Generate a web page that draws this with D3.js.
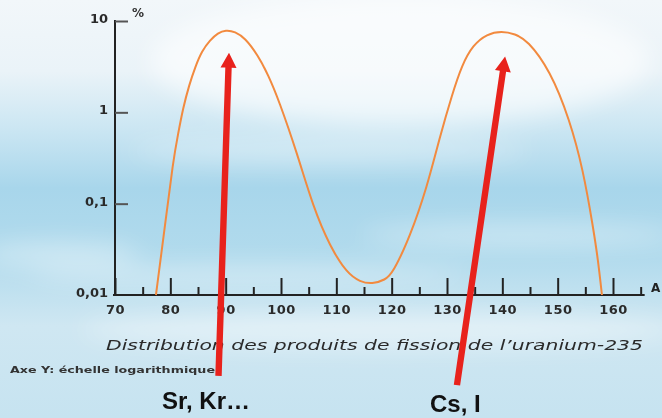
<!DOCTYPE html>
<html>
<head>
<meta charset="utf-8">
<script src="https://cdn.jsdelivr.net/npm/d3@7"></script>
<style>
  body { margin: 0; overflow: hidden; }
  svg { display: block; }
</style>
</head>
<body>
<svg id="chart"></svg>
<script>
// mass number A and fission yield (%)
var massNumbers = [77.4, 79.0, 80.5, 81.4, 82.3, 83.4, 84.5, 85.7, 87.2, 88.6, 90.0, 91.7, 93.5,
  95.8, 97.7, 99.6, 102.9, 105.8, 108.9, 111.9, 114.3, 116.5, 118.8, 120.2, 123.3, 126.4, 128.7,
  130.9, 132.7, 134.7, 137.2, 139.9, 142.3, 144.5, 148.6, 152.2, 154.6, 156.4, 157.3, 158.0]
var yields = [0.01, 0.0555, 0.293, 0.579, 1.115, 1.99, 3.14, 4.69, 6.19, 7.39, 7.97, 7.67, 6.51,
  4.24, 2.56, 1.36, 0.359, 0.0919, 0.0335, 0.0174, 0.0139, 0.0132, 0.0146, 0.0174, 0.0432, 0.152, 0.537,
  1.55, 3.30, 5.46, 7.21, 7.77, 7.21, 6.19, 2.91, 0.824, 0.234, 0.0555, 0.0242, 0.01]

var xTicks = [70, 80, 90, 100, 110, 120, 130, 140, 150, 160]
var xMinorTicks = [75, 85, 95, 105, 115, 125, 135, 145, 155, 165]
var yTicks = [10, 1, 0.1, 0.01]
var yTickLabels = ["10", "1", "0,1", "0,01"]

// arrows pointing at the two peaks: [A, yield]
var arrowLabels = ["Sr, Kr…", "Cs, I"]
var arrowTips = [[90.6, 4.5], [140.5, 4.1]]
var arrowTails = [[88.7, 0.0013], [131.8, 0.00103]]

var title = "Distribution des produits de fission de l\u2019uranium-235"
var note = "Axe Y: échelle logarithmique"

var width = 662, height = 418

var svg = d3.select("#chart").attr("width", width).attr("height", height)

// background sky
var defs = svg.append("defs")
var grad = defs.append("linearGradient").attr("id", "sky")
  .attr("x1", 0).attr("y1", 0).attr("x2", 0).attr("y2", 1)
var stops = [[0, "#f2f7fa"], [0.17, "#eaf3f8"], [0.3, "#cde7f3"], [0.45, "#a8d6eb"],
  [0.62, "#b2dbed"], [0.78, "#cfe7f2"], [1, "#c6e3f0"]]
stops.forEach(function(s) {
  grad.append("stop").attr("offset", s[0]).attr("stop-color", s[1])
})
defs.append("filter").attr("id", "blur").attr("x", "-50%").attr("y", "-50%")
  .attr("width", "200%").attr("height", "200%")
  .append("feGaussianBlur").attr("stdDeviation", 12)

svg.append("rect").attr("width", width).attr("height", height).attr("fill", "url(#sky)")

var clouds = svg.append("g").attr("filter", "url(#blur)").attr("fill", "#ffffff")
clouds.append("ellipse").attr("cx", 400).attr("cy", 60).attr("rx", 250).attr("ry", 65).attr("opacity", 0.6)
clouds.append("ellipse").attr("cx", 330).attr("cy", 150).attr("rx", 200).attr("ry", 12).attr("opacity", 0.35)
clouds.append("ellipse").attr("cx", 520).attr("cy", 235).attr("rx", 160).attr("ry", 10).attr("opacity", 0.4)
clouds.append("ellipse").attr("cx", 250).attr("cy", 275).attr("rx", 220).attr("ry", 10).attr("opacity", 0.35)
clouds.append("ellipse").attr("cx", 380).attr("cy", 330).attr("rx", 300).attr("ry", 18).attr("opacity", 0.4)
clouds.append("ellipse").attr("cx", 60).attr("cy", 255).attr("rx", 80).attr("ry", 12).attr("opacity", 0.4)

// scales
var xScale = d3.scaleLinear().domain([70, 160]).range([115, 613])
var yScale = d3.scaleLog().domain([0.01, 10]).range([295, 21])

var axisY0 = yScale(0.01)
var labelFont = "'DejaVu Sans', sans-serif"

// x axis line
svg.append("line")
  .attr("x1", xScale(70) - 2).attr("x2", xScale(165) + 4)
  .attr("y1", axisY0).attr("y2", axisY0)
  .attr("stroke", "#222").attr("stroke-width", 2)

var xAxis = svg.append("g")
  .attr("transform", "translate(0," + axisY0 + ")")
  .call(d3.axisBottom(xScale).tickValues(xTicks).tickSize(-17).tickPadding(10))
xAxis.select(".domain").remove()
xAxis.selectAll("line").attr("stroke", "#222").attr("stroke-width", 2)
xAxis.selectAll("text").attr("fill", "#2a2a2a").style("font-family", labelFont)
  .style("font-size", "13px").style("font-weight", "bold").style("letter-spacing", "0.5px")

var xMinor = svg.append("g")
  .attr("transform", "translate(0," + axisY0 + ")")
  .call(d3.axisBottom(xScale).tickValues(xMinorTicks).tickSize(-8).tickFormat(""))
xMinor.select(".domain").remove()
xMinor.selectAll("line").attr("stroke", "#222").attr("stroke-width", 2)

// y axis
svg.append("line")
  .attr("x1", xScale(70)).attr("x2", xScale(70))
  .attr("y1", yScale(10) - 1).attr("y2", axisY0 + 1)
  .attr("stroke", "#222").attr("stroke-width", 2)

var yAxis = svg.append("g")
  .attr("transform", "translate(" + xScale(70) + ",0)")
  .call(d3.axisLeft(yScale).tickValues(yTicks).tickSize(-13).tickPadding(7)
    .tickFormat(function(d, i) { return yTickLabels[i] }))
yAxis.select(".domain").remove()
yAxis.selectAll("line").attr("stroke", "#555").attr("stroke-width", 2)
yAxis.selectAll(".tick").filter(function(d) { return d == 0.01 }).select("line").remove()
yAxis.selectAll("text").attr("fill", "#2a2a2a").attr("dy", "0.12em")
  .style("font-family", labelFont).style("font-size", "13px").style("font-weight", "bold")

svg.append("text").text("%")
  .attr("x", 132).attr("y", 17)
  .attr("fill", "#333").style("font-family", labelFont).style("font-size", "12px").style("font-weight", "bold")

svg.append("text").text("A")
  .attr("x", 651).attr("y", 292)
  .attr("fill", "#222").style("font-family", labelFont).style("font-size", "12px").style("font-weight", "bold")

// yield curve (smoothed through the read points)
var points = massNumbers.map(function(a, i) { return {a: a, y: yields[i]} })
var line = d3.line()
  .x(function(d) { return xScale(d.a) })
  .y(function(d) { return yScale(d.y) })
  .curve(d3.curveBasis)

svg.append("path")
  .datum(points)
  .attr("d", line)
  .attr("fill", "none")
  .attr("stroke", "#f28a3f")
  .attr("stroke-width", 2)

// title and note
svg.append("text").text(title)
  .attr("x", 106).attr("y", 350)
  .attr("textLength", 537).attr("lengthAdjust", "spacingAndGlyphs")
  .attr("fill", "#2a2a2a")
  .style("font-family", labelFont).style("font-size", "14.5px").style("font-style", "italic")

svg.append("text").text(note)
  .attr("x", 10).attr("y", 373)
  .attr("textLength", 205).attr("lengthAdjust", "spacingAndGlyphs")
  .attr("fill", "#333")
  .style("font-family", labelFont).style("font-size", "9.5px").style("font-weight", "bold")

// red arrows
function arrowPath(tail, tip) {
  var x0 = xScale(tail[0]), y0 = yScale(tail[1])
  var x1 = xScale(tip[0]), y1 = yScale(tip[1])
  var dx = x1 - x0, dy = y1 - y0
  var len = Math.sqrt(dx * dx + dy * dy)
  var ux = dx / len, uy = dy / len
  var px = -uy, py = ux
  var shaft = 3.2, head = 8, headLen = 15
  var bx = x1 - ux * headLen, by = y1 - uy * headLen
  var pts = [
    [x0 + px * shaft, y0 + py * shaft],
    [bx + px * shaft, by + py * shaft],
    [bx + px * head, by + py * head],
    [x1, y1],
    [bx - px * head, by - py * head],
    [bx - px * shaft, by - py * shaft],
    [x0 - px * shaft, y0 - py * shaft]
  ]
  return "M" + pts.map(function(p) { return p[0].toFixed(1) + "," + p[1].toFixed(1) }).join("L") + "Z"
}

arrowTips.forEach(function(tip, i) {
  svg.append("path")
    .attr("d", arrowPath(arrowTails[i], tip))
    .attr("fill", "#e8221c")
})

var labelPos = [[162, 409], [430, 412]]
arrowLabels.forEach(function(t, i) {
  svg.append("text").text(t)
    .attr("x", labelPos[i][0]).attr("y", labelPos[i][1])
    .attr("fill", "#111")
    .style("font-family", "'Liberation Sans', Arial, sans-serif")
    .style("font-size", "24px").style("font-weight", "bold")
})
</script>
</body>
</html>
